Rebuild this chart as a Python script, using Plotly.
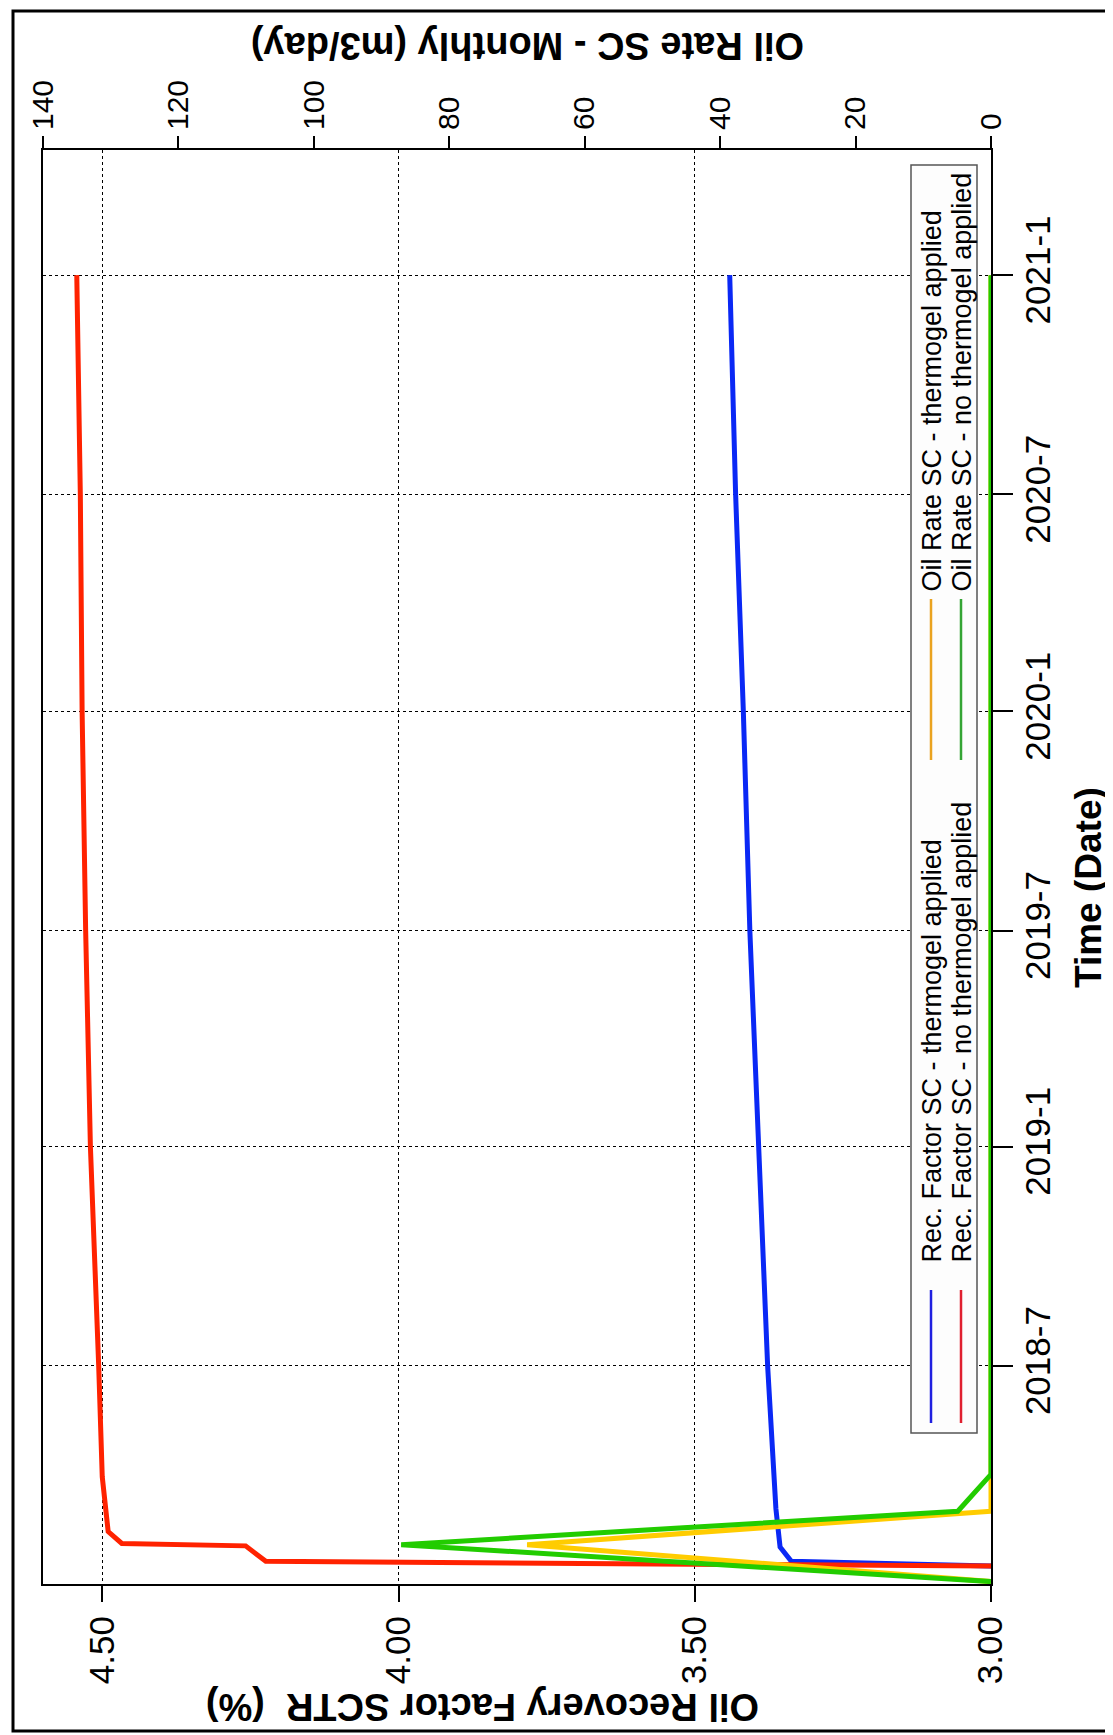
import plotly.graph_objects as go

# Oil recovery factor SCTR (%) - thermogel applied
rf_thermo_dates = ["2018-01-14", "2018-01-18", "2018-01-30", "2018-03-03", "2018-07-01",
                   "2019-01-01", "2019-07-01", "2020-01-01", "2020-07-01", "2021-01-01"]
rf_thermo = [3.00, 3.337, 3.356, 3.363, 3.377, 3.393, 3.407, 3.418, 3.431, 3.441]

# Oil recovery factor SCTR (%) - no thermogel applied
rf_no_dates = ["2018-01-14", "2018-01-18", "2018-01-31", "2018-02-02", "2018-02-12", "2018-03-30",
               "2018-07-01", "2019-01-01", "2019-07-01", "2020-01-01", "2020-07-01", "2021-01-01"]
rf_no = [3.00, 4.224, 4.258, 4.467, 4.490, 4.500, 4.506, 4.520, 4.528, 4.534, 4.537, 4.543]

# Oil rate SC - monthly (m3/day)
rate_dates = ["2018-01-01", "2018-02-01", "2018-03-01", "2018-04-01", "2021-01-01"]
rate_thermo = [0, 68.5, 0, 0, 0]
rate_no = [0, 87.1, 4.9, 0, 0]

time_ticks = ["2018-07-01", "2019-01-01", "2019-07-01", "2020-01-01", "2020-07-01", "2021-01-01"]
time_labels = ["2018-7", "2019-1", "2019-7", "2020-1", "2020-7", "2021-1"]
rf_ticks = [3.0, 3.5, 4.0, 4.5]
rf_labels = ["3.00", "3.50", "4.00", "4.50"]
rate_ticks = [0, 20, 40, 60, 80, 100, 120, 140]

names = ["Rec. Factor SC - thermogel applied", "Rec. Factor SC - no thermogel applied",
         "Oil Rate SC - thermogel applied", "Oil Rate SC - no thermogel applied"]

W, H = 1113, 1735
L, R, T, B = 35, 130, 142, 159
FONT = "Liberation Sans, Arial, sans-serif"


def px(x):
    return (x - L) / (W - L - R)


def py(y):
    return (H - B - y) / (H - T - B)


fig = go.Figure()
fig.add_trace(go.Scatter(x=rate_thermo, y=rate_dates, xaxis="x2", yaxis="y", mode="lines",
                         line=dict(color="#ffcc00", width=5), name=names[2]))
fig.add_trace(go.Scatter(x=rate_no, y=rate_dates, xaxis="x2", yaxis="y", mode="lines",
                         line=dict(color="#22cc00", width=5), name=names[3]))
fig.add_trace(go.Scatter(x=rf_thermo, y=rf_thermo_dates, mode="lines",
                         line=dict(color="#0a28f5", width=5), name=names[0]))
fig.add_trace(go.Scatter(x=rf_no, y=rf_no_dates, mode="lines",
                         line=dict(color="#ff2200", width=5), name=names[1]))

axis_common = dict(showline=True, linecolor="black", linewidth=2, ticks="outside",
                   tickcolor="black", tickwidth=2, zeroline=False, automargin=False)

fig.update_layout(
    width=W, height=H,
    margin=dict(l=L, r=R, t=T, b=B),
    paper_bgcolor="white", plot_bgcolor="white",
    showlegend=False,
    font=dict(family=FONT, color="black"),
    xaxis=dict(range=[4.6, 3.0], tickvals=rf_ticks, ticktext=rf_labels, tickangle=-90,
               ticklen=16, showgrid=True, gridcolor="black", gridwidth=1,
               griddash="3px,3px", side="bottom",
               tickfont=dict(family=FONT, size=35, color="black"), **axis_common),
    xaxis2=dict(range=[140, 0], tickvals=rate_ticks, tickangle=-90, ticklen=12,
                showgrid=False, overlaying="x", side="top", anchor="y",
                tickfont=dict(family=FONT, size=30, color="black"), **axis_common),
    yaxis=dict(type="date", range=["2017-12-30", "2021-04-16"], tickvals=time_ticks,
               ticktext=time_labels, tickangle=-90, ticklen=20, ticklabelstandoff=-5,
               side="right", mirror=True,
               showgrid=True, gridcolor="black", gridwidth=1, griddash="3px,3px",
               tickfont=dict(family=FONT, size=35, color="black"), **axis_common),
)

shapes = []
annotations = []

# legend box (drawn rotated like the rest of the chart)
shapes.append(dict(type="rect", xref="paper", yref="paper", layer="above",
                   x0=px(903), x1=px(969), y0=py(1425), y1=py(157),
                   fillcolor="#fdfdfd", line=dict(color="#555555", width=1.5)))
legend_items = [
    (names[0], "#2020e0", 923, 1282, 1415, 1257),
    (names[1], "#e02030", 953, 1282, 1415, 1257),
    (names[2], "#eaa320", 923, 591, 752, 586),
    (names[3], "#35a535", 953, 591, 752, 586),
]
for text, color, xc, ya, yb, yt in legend_items:
    shapes.append(dict(type="line", xref="paper", yref="paper", layer="above",
                       x0=px(xc), x1=px(xc), y0=py(ya), y1=py(yb),
                       line=dict(color=color, width=2.5)))
    annotations.append(dict(text=text, xref="paper", yref="paper", x=px(xc), y=py(yt),
                            xanchor="center", yanchor="bottom", textangle=-90,
                            showarrow=False, font=dict(family=FONT, size=27, color="black")))

# axis titles
annotations.append(dict(text="<b>Oil Recovery Factor SCTR\u00a0\u00a0(%)</b>", xref="paper",
                        yref="paper", x=px(475), y=py(1699), xanchor="center", yanchor="middle",
                        textangle=180, showarrow=False, font=dict(family=FONT, size=38)))
annotations.append(dict(text="<b>Oil Rate SC - Monthly (m3/day)</b>", xref="paper",
                        yref="paper", x=px(520), y=py(38), xanchor="center", yanchor="middle",
                        textangle=180, showarrow=False, font=dict(family=FONT, size=38)))
annotations.append(dict(text="<b>Time (Date)</b>", xref="paper", yref="paper",
                        x=px(1080), y=py(880), xanchor="center", yanchor="middle",
                        textangle=-90, showarrow=False, font=dict(family=FONT, size=37)))

# outer frame
shapes.append(dict(type="rect", xref="paper", yref="paper", layer="above",
                   x0=px(5), x1=px(1110), y0=py(1723), y1=py(3),
                   line=dict(color="black", width=3)))

fig.update_layout(shapes=shapes, annotations=annotations)
fig.write_html("out.html")
